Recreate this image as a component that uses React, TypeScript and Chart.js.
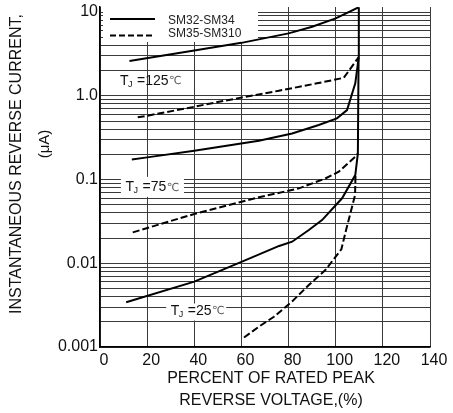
import { useEffect, useRef } from "react";
import { Chart, registerables } from "chart.js";

Chart.register(...registerables);

// ---- data ----
const xTickValues = [0, 20, 40, 60, 80, 100, 120, 140];
const yDecades = [0.001, 0.01, 0.1, 1, 10];
const yDecadeLabels = ["0.001", "0.01", "0.1", "1.0", "10"];

const seriesNames = ["SM32-SM34", "SM35-SM310"];
const temperatures = ["125", "75", "25"];

// [percent of rated peak reverse voltage, current µA]
const sm32_125: number[][] = [[12.5, 2.6], [40, 3.47], [60, 4.29], [80, 5.57], [90, 6.67], [100, 8.41], [109.7, 11.4]];
const sm35_125: number[][] = [[16, 0.553], [20, 0.578], [40, 0.74], [50.5, 0.849], [67.4, 1.04], [75.9, 1.15], [92.1, 1.41], [103.4, 1.64], [109.7, 2.88]];
const sm32_75: number[][] = [[13.5, 0.174], [20, 0.184], [40, 0.221], [67.4, 0.29], [81.5, 0.355], [92.8, 0.448], [100.5, 0.538], [104.8, 0.676], [108.3, 1.41], [109.7, 2.8]];
const sm35_75: number[][] = [[13.9, 0.0234], [40, 0.0388], [67.4, 0.0613], [84.4, 0.0785], [95.6, 0.103], [101.3, 0.124], [108.3, 0.187], [109.4, 0.205]];
const sm32_25: number[][] = [[11.1, 0.00342], [40, 0.00603], [60, 0.0104], [76, 0.0161], [81.5, 0.0181], [88.6, 0.025], [94.2, 0.0328], [102.7, 0.0597], [108.3, 0.113], [109.4, 0.205], [109.7, 2.85], [109.8, 11.4]];
const sm35_25: number[][] = [[61.1, 0.0013], [67.4, 0.00175], [73.8, 0.0023], [81.5, 0.0035], [88.6, 0.0055], [95.6, 0.0083], [102.4, 0.0147], [104.4, 0.025], [108.2, 0.065], [108.4, 0.113]];

const FONT = "'Liberation Sans', Arial, 'DejaVu Sans', sans-serif";

function toPts(arr: number[][]) {
  return arr.map(([x, y]) => ({ x, y }));
}

function drawTj(ctx: CanvasRenderingContext2D, x: number, y: number, temp: string) {
  ctx.fillStyle = "#111";
  ctx.textBaseline = "middle";
  ctx.textAlign = "left";
  ctx.font = `14px ${FONT}`;
  ctx.fillText("T", x, y);
  const wT = ctx.measureText("T").width;
  ctx.font = `9px ${FONT}`;
  ctx.fillText("J", x + wT - 0.5, y + 3);
  ctx.font = `14px ${FONT}`;
  const s = "=" + temp;
  ctx.fillText(s, x + 17, y);
  const ws = ctx.measureText(s).width;
  ctx.fillStyle = "#555";
  ctx.font = `11px 'DejaVu Sans', ${FONT}`;
  ctx.fillText("\u2103", x + 17 + ws + 0.5, y + 0.5);
}

const overlay = {
  id: "overlay",
  beforeDatasetsDraw(chart: any) {
    const { ctx, chartArea: a, scales } = chart;
    const xs = scales.x;
    const ys = scales.y;
    ctx.save();
    ctx.fillStyle = "#fff";
    // legend box
    ctx.fillRect(a.left + 3, a.top, 155, 35);
    // 75 label box
    const x75 = xs.getPixelForValue(10.8);
    const y75 = ys.getPixelForValue(0.0807);
    ctx.fillRect(x75 - 4.5, y75 - 10.5, 63, 20);
    // 25 label box
    const x25 = xs.getPixelForValue(30);
    const y25 = ys.getPixelForValue(0.00269);
    ctx.fillRect(x25 - 4.5, y25 - 7.5, 60, 17);
    ctx.restore();
  },
  afterDatasetsDraw(chart: any) {
    const { ctx, chartArea: a, scales } = chart;
    const xs = scales.x;
    const ys = scales.y;
    ctx.save();
    // legend
    ctx.strokeStyle = "#000";
    ctx.lineWidth = 2.2;
    ctx.beginPath();
    ctx.moveTo(a.left + 10, a.top + 12);
    ctx.lineTo(a.left + 55, a.top + 12);
    ctx.stroke();
    ctx.setLineDash([6, 3]);
    ctx.beginPath();
    ctx.moveTo(a.left + 10, a.top + 28.5);
    ctx.lineTo(a.left + 55, a.top + 28.5);
    ctx.stroke();
    ctx.setLineDash([]);
    ctx.fillStyle = "#222";
    ctx.font = `12px ${FONT}`;
    ctx.textBaseline = "middle";
    ctx.textAlign = "left";
    ctx.fillText(seriesNames[0], a.left + 68, a.top + 14);
    ctx.fillText(seriesNames[1], a.left + 68, a.top + 27);

    // temperature labels
    drawTj(ctx, xs.getPixelForValue(8.5), ys.getPixelForValue(1.5), temperatures[0]);
    drawTj(ctx, xs.getPixelForValue(10.8), ys.getPixelForValue(0.0807), temperatures[1]);
    drawTj(ctx, xs.getPixelForValue(30), ys.getPixelForValue(0.00269), temperatures[2]);
    ctx.restore();
  },
  afterDraw(chart: any) {
    const { ctx, chartArea: a } = chart;
    ctx.save();
    ctx.fillStyle = "#111";
    ctx.font = `16px ${FONT}`;
    ctx.textAlign = "center";
    ctx.textBaseline = "middle";
    const cx = a.left + 171;
    ctx.fillText("PERCENT OF RATED PEAK", cx, a.bottom + 32);
    ctx.fillText("REVERSE VOLTAGE,(%)", cx, a.bottom + 54);
    ctx.save();
    ctx.translate(17, a.top + 157);
    ctx.rotate(-Math.PI / 2);
    ctx.fillText("INSTANTANEOUS REVERSE CURRENT,", 0, 0);
    ctx.restore();
    ctx.save();
    ctx.translate(45, a.top + 137);
    ctx.rotate(-Math.PI / 2);
    ctx.font = `15px ${FONT}`;
    ctx.fillText("(\u03bcA)", 0, 0);
    ctx.restore();
    ctx.restore();
  },
};

export default function App() {
  const ref = useRef<HTMLCanvasElement | null>(null);
  useEffect(() => {
    if (!ref.current) return;
    const solid = (data: number[][]) => ({
      data: toPts(data),
      borderColor: "#000",
      borderWidth: 2,
      pointRadius: 0,
      tension: 0,
      fill: false,
    });
    const dashed = (data: number[][]) => ({
      ...solid(data),
      borderDash: [7, 3],
    });
    const chart = new Chart(ref.current, {
      type: "line",
      data: {
        datasets: [
          { label: seriesNames[0] + " 125", ...solid(sm32_125) },
          { label: seriesNames[1] + " 125", ...dashed(sm35_125) },
          { label: seriesNames[0] + " 75", ...solid(sm32_75) },
          { label: seriesNames[1] + " 75", ...dashed(sm35_75) },
          { label: seriesNames[0] + " 25", ...solid(sm32_25) },
          { label: seriesNames[1] + " 25", ...dashed(sm35_25) },
        ] as any,
      },
      options: {
        animation: false,
        responsive: false,
        devicePixelRatio: 1,
        layout: { padding: { top: 7, right: 23, left: 0, bottom: 0 } },
        plugins: { legend: { display: false }, tooltip: { enabled: false } },
        scales: {
          x: {
            type: "linear",
            min: 0,
            max: 140,
            afterBuildTicks: (s: any) => {
              s.ticks = xTickValues.map((v) => ({ value: v }));
            },
            afterFit: (s: any) => {
              s.height = 66;
              s.paddingLeft = 0;
              s.paddingRight = 0;
            },
            ticks: {
              autoSkip: false,
              maxRotation: 0,
              color: "#111",
              font: { family: FONT, size: 16 },
              padding: 4,
              labelOffset: 4,
            },
            grid: { color: "#3a3a3a", lineWidth: 1, drawTicks: false },
            border: { color: "#000", width: 1.5 },
          },
          y: {
            type: "logarithmic",
            min: 0.001,
            max: 11.5,
            afterBuildTicks: (s: any) => {
              const t: { value: number }[] = [];
              for (let e = -3; e <= 0; e++) {
                for (let m = 1; m <= 9; m++) t.push({ value: m * Math.pow(10, e) });
              }
              t.push({ value: 10 });
              s.ticks = t;
            },
            afterFit: (s: any) => {
              s.width = 100;
              s.paddingTop = 0;
              s.paddingBottom = 0;
            },
            ticks: {
              autoSkip: false,
              color: "#111",
              font: { family: FONT, size: 16 },
              padding: 2,
              callback: (v: any) => {
                const val = Number(v);
                for (let i = 0; i < yDecades.length; i++) {
                  if (Math.abs(Math.log10(val) - Math.log10(yDecades[i])) < 1e-6) return yDecadeLabels[i];
                }
                return "";
              },
            },
            grid: { color: "#3a3a3a", lineWidth: 1, drawTicks: false },
            border: { color: "#000", width: 1.5 },
          },
        },
      },
      plugins: [overlay],
    });
    return () => chart.destroy();
  }, []);
  return (
    <div style={{ position: "fixed", left: 0, top: 0, width: 453, height: 413, background: "#fff" }}>
      <canvas ref={ref} width={453} height={413} style={{ width: 453, height: 413, display: "block" }} />
    </div>
  );
}
